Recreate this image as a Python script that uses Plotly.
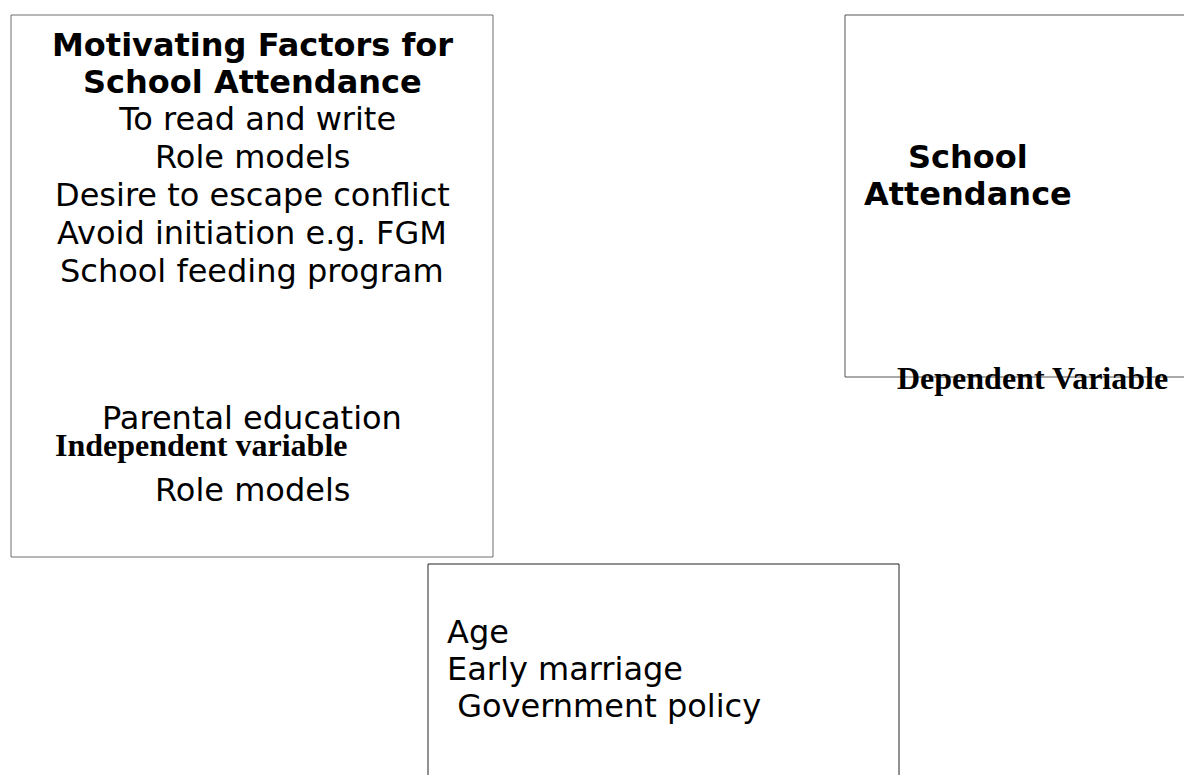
import plotly.graph_objects as go

# Conceptual framework diagram: three boxes with their text
title_lines = ["Motivating Factors for", "School Attendance"]
factor_lines = [
    " To read and write",
    "Role models",
    "Desire to escape conflict",
    "Avoid initiation e.g. FGM",
    "School feeding program",
]
lower_factor_lines = ["Parental education", "Role models"]
independent_label = "Independent variable"
dependent_lines = ["School", "Attendance"]
dependent_label = "Dependent Variable"
intervening_lines = ["Age", "Early marriage", " Government policy"]

W, H = 1192, 775
OFF = 8  # page body margin
sans = "DejaVu Sans"
serif = "Liberation Serif"

fig = go.Figure()

# boxes (x0, y0, x1, y1) in pixel space, y pointing down
boxes = [
    dict(x0=11, y0=15, x1=493, y1=557, color="#6e6e6e"),
    dict(x0=845, y0=15, x1=1210, y1=377, color="#555555"),
    dict(x0=428, y0=564, x1=899, y1=800, color="#222222"),
]
for b in boxes:
    fig.add_shape(
        type="rect", xref="x", yref="y",
        x0=b["x0"], y0=b["y0"], x1=b["x1"], y1=b["y1"],
        line=dict(color=b["color"], width=1),
        fillcolor="rgba(0,0,0,0)",
        layer="below",
    )


def add_lines(lines, x, y0, step, size, bold=False, family=sans, anchor="center"):
    for i, txt in enumerate(lines):
        t = txt.replace(" ", "&nbsp;") if txt.startswith(" ") else txt
        if bold:
            t = "<b>%s</b>" % t
        fig.add_annotation(
            x=x, y=y0 + i * step, xref="x", yref="y",
            text=t,
            showarrow=False, xanchor=anchor, yanchor="middle",
            font=dict(family=family, size=size, color="black"),
        )


add_lines(title_lines, 252, 45, 37, 32, bold=True)
add_lines(factor_lines, 252, 119, 38, 32)
add_lines(lower_factor_lines, 252, 418, 72, 32)
add_lines([independent_label], 53, 445, 0, 32, bold=True, family=serif, anchor="left")
add_lines(dependent_lines, 968, 157, 37, 32, bold=True)
add_lines([dependent_label], 1032, 378, 0, 32, bold=True, family=serif)
add_lines(intervening_lines, 445, 632, 37, 32, anchor="left")

fig.update_layout(
    width=W, height=H,
    margin=dict(l=0, r=0, t=0, b=0),
    paper_bgcolor="white", plot_bgcolor="white",
    showlegend=False,
    xaxis=dict(range=[OFF, W + OFF], visible=False, fixedrange=True),
    yaxis=dict(range=[H + OFF, OFF], visible=False, fixedrange=True),
)

fig.write_html("out.html")
